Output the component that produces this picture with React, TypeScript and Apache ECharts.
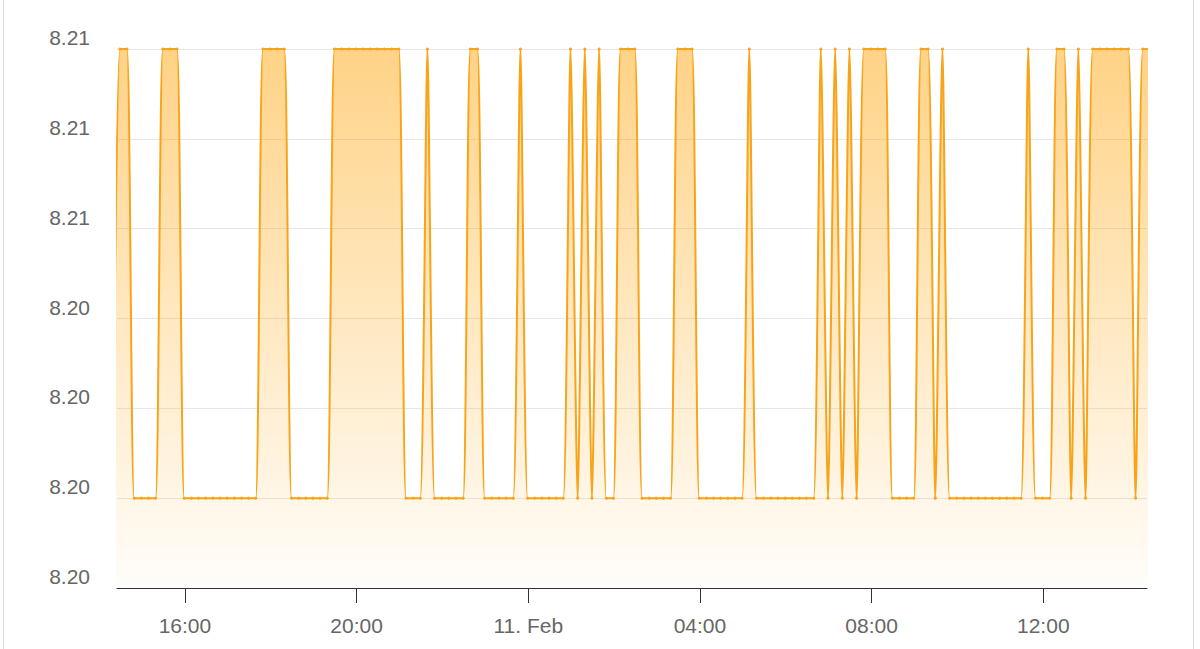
import React, { useEffect, useRef } from "react";
import * as echarts from "echarts";

// Levels (high / low plateau)
const H = 8.212;
const L = 8.202;

// One sample every 10 minutes, first sample (clipped) at 2021-02-10 14:19
const sampleStart = new Date(2021, 1, 10, 14, 19).getTime();
const sampleStepMin = 10;

const values: number[] = [
  L,
  H, H, L, L, L, L, H, H, H, L,
  L, L, L, L, L, L, L, L, L, L,
  H, H, H, H, L, L, L, L, L, L,
  H, H, H, H, H, H, H, H, H, H,
  L, L, L, H, L, L, L, L, L, H,
  H, L, L, L, L, L, H, L, L, L,
  L, L, L, H, L, H, L, H, L, L,
  H, H, H, L, L, L, L, L, H, H,
  H, L, L, L, L, L, L, L, H, L,
  L, L, L, L, L, L, L, L, H, L,
  H, L, H, L, H, H, H, H, L, L,
  L, L, H, H, L, H, L, L, L, L,
  L, L, L, L, L, L, L, H, L, L,
  L, H, H, L, H, L, H, H, H, H,
  H, H, L, H, H,
];

const xMin = new Date(2021, 1, 10, 14, 25).getTime();
const xMax = new Date(2021, 1, 11, 14, 25).getTime();

const xTickTimes: number[] = [
  new Date(2021, 1, 10, 16, 0).getTime(),
  new Date(2021, 1, 10, 20, 0).getTime(),
  new Date(2021, 1, 11, 0, 0).getTime(),
  new Date(2021, 1, 11, 4, 0).getTime(),
  new Date(2021, 1, 11, 8, 0).getTime(),
  new Date(2021, 1, 11, 12, 0).getTime(),
];
const xTickLabels = ["16:00", "20:00", "11. Feb", "04:00", "08:00", "12:00"];

const yMin = 8.2;
const yMax = 8.212;
const yInterval = 0.002;
const yTickLabels = ["8.20", "8.20", "8.20", "8.20", "8.21", "8.21", "8.21"];

export default function App() {
  const ref = useRef<HTMLDivElement>(null);

  useEffect(() => {
    if (!ref.current) return;
    const chart = echarts.init(ref.current, undefined, { renderer: "svg" });
    const data = values.map((v, i) => [sampleStart + i * sampleStepMin * 60000, v]);
    const lineColor = "#f8a318";
    const font = "Liberation Sans, Arial, sans-serif";
    chart.setOption({
      animation: false,
      backgroundColor: "#ffffff",
      grid: { left: 117, right: 53, top: 49, bottom: 61, containLabel: false },
      graphic: [
        { type: "line", shape: { x1: 3.5, y1: 0, x2: 3.5, y2: 649 }, style: { stroke: "#dedede", lineWidth: 1 } },
        { type: "line", shape: { x1: 1193.5, y1: 0, x2: 1193.5, y2: 649 }, style: { stroke: "#dedede", lineWidth: 1 } },
      ],
      xAxis: {
        type: "value",
        min: xMin,
        max: xMax,
        axisLine: { show: true, lineStyle: { color: "#333333", width: 1 } },
        axisTick: { show: true, length: 15, lineStyle: { color: "#333333" }, customValues: xTickTimes },
        axisLabel: {
          customValues: xTickTimes,
          margin: 27,
          color: "#666666",
          fontSize: 21,
          fontFamily: font,
          formatter: (v: number) => {
            const idx = xTickTimes.indexOf(v);
            return idx >= 0 ? xTickLabels[idx] : "";
          },
        },
        splitLine: { show: false },
      },
      yAxis: {
        type: "value",
        min: yMin,
        max: yMax,
        interval: yInterval,
        axisLine: { show: false },
        axisTick: { show: false },
        splitLine: { show: true, lineStyle: { color: "#e6e6e6", width: 1 } },
        axisLabel: {
          margin: 27,
          color: "#666666",
          fontSize: 21,
          fontFamily: font,
          verticalAlign: "bottom",
          padding: [0, 0, 1, 0],
          formatter: (v: number) => {
            const idx = Math.round((v - yMin) / yInterval);
            return yTickLabels[idx] ?? "";
          },
        },
      },
      series: [
        {
          type: "line",
          data,
          clip: true,
          smooth: 0.22,
          showSymbol: true,
          symbol: "circle",
          symbolSize: 3,
          itemStyle: { color: lineColor },
          lineStyle: { color: lineColor, width: 2 },
          areaStyle: {
            color: new echarts.graphic.LinearGradient(0, 0, 0, 1, [
              { offset: 0, color: "rgba(255, 172, 30, 0.76)" },
              { offset: 1, color: "rgba(255, 172, 30, 0.03)" },
            ]),
          },
        },
      ],
    });
    return () => chart.dispose();
  }, []);

  return (
    <div style={{ position: "fixed", left: 0, top: 0, width: 1200, height: 649, background: "#fff" }}>
      <div ref={ref} style={{ width: 1200, height: 649 }} />
    </div>
  );
}
